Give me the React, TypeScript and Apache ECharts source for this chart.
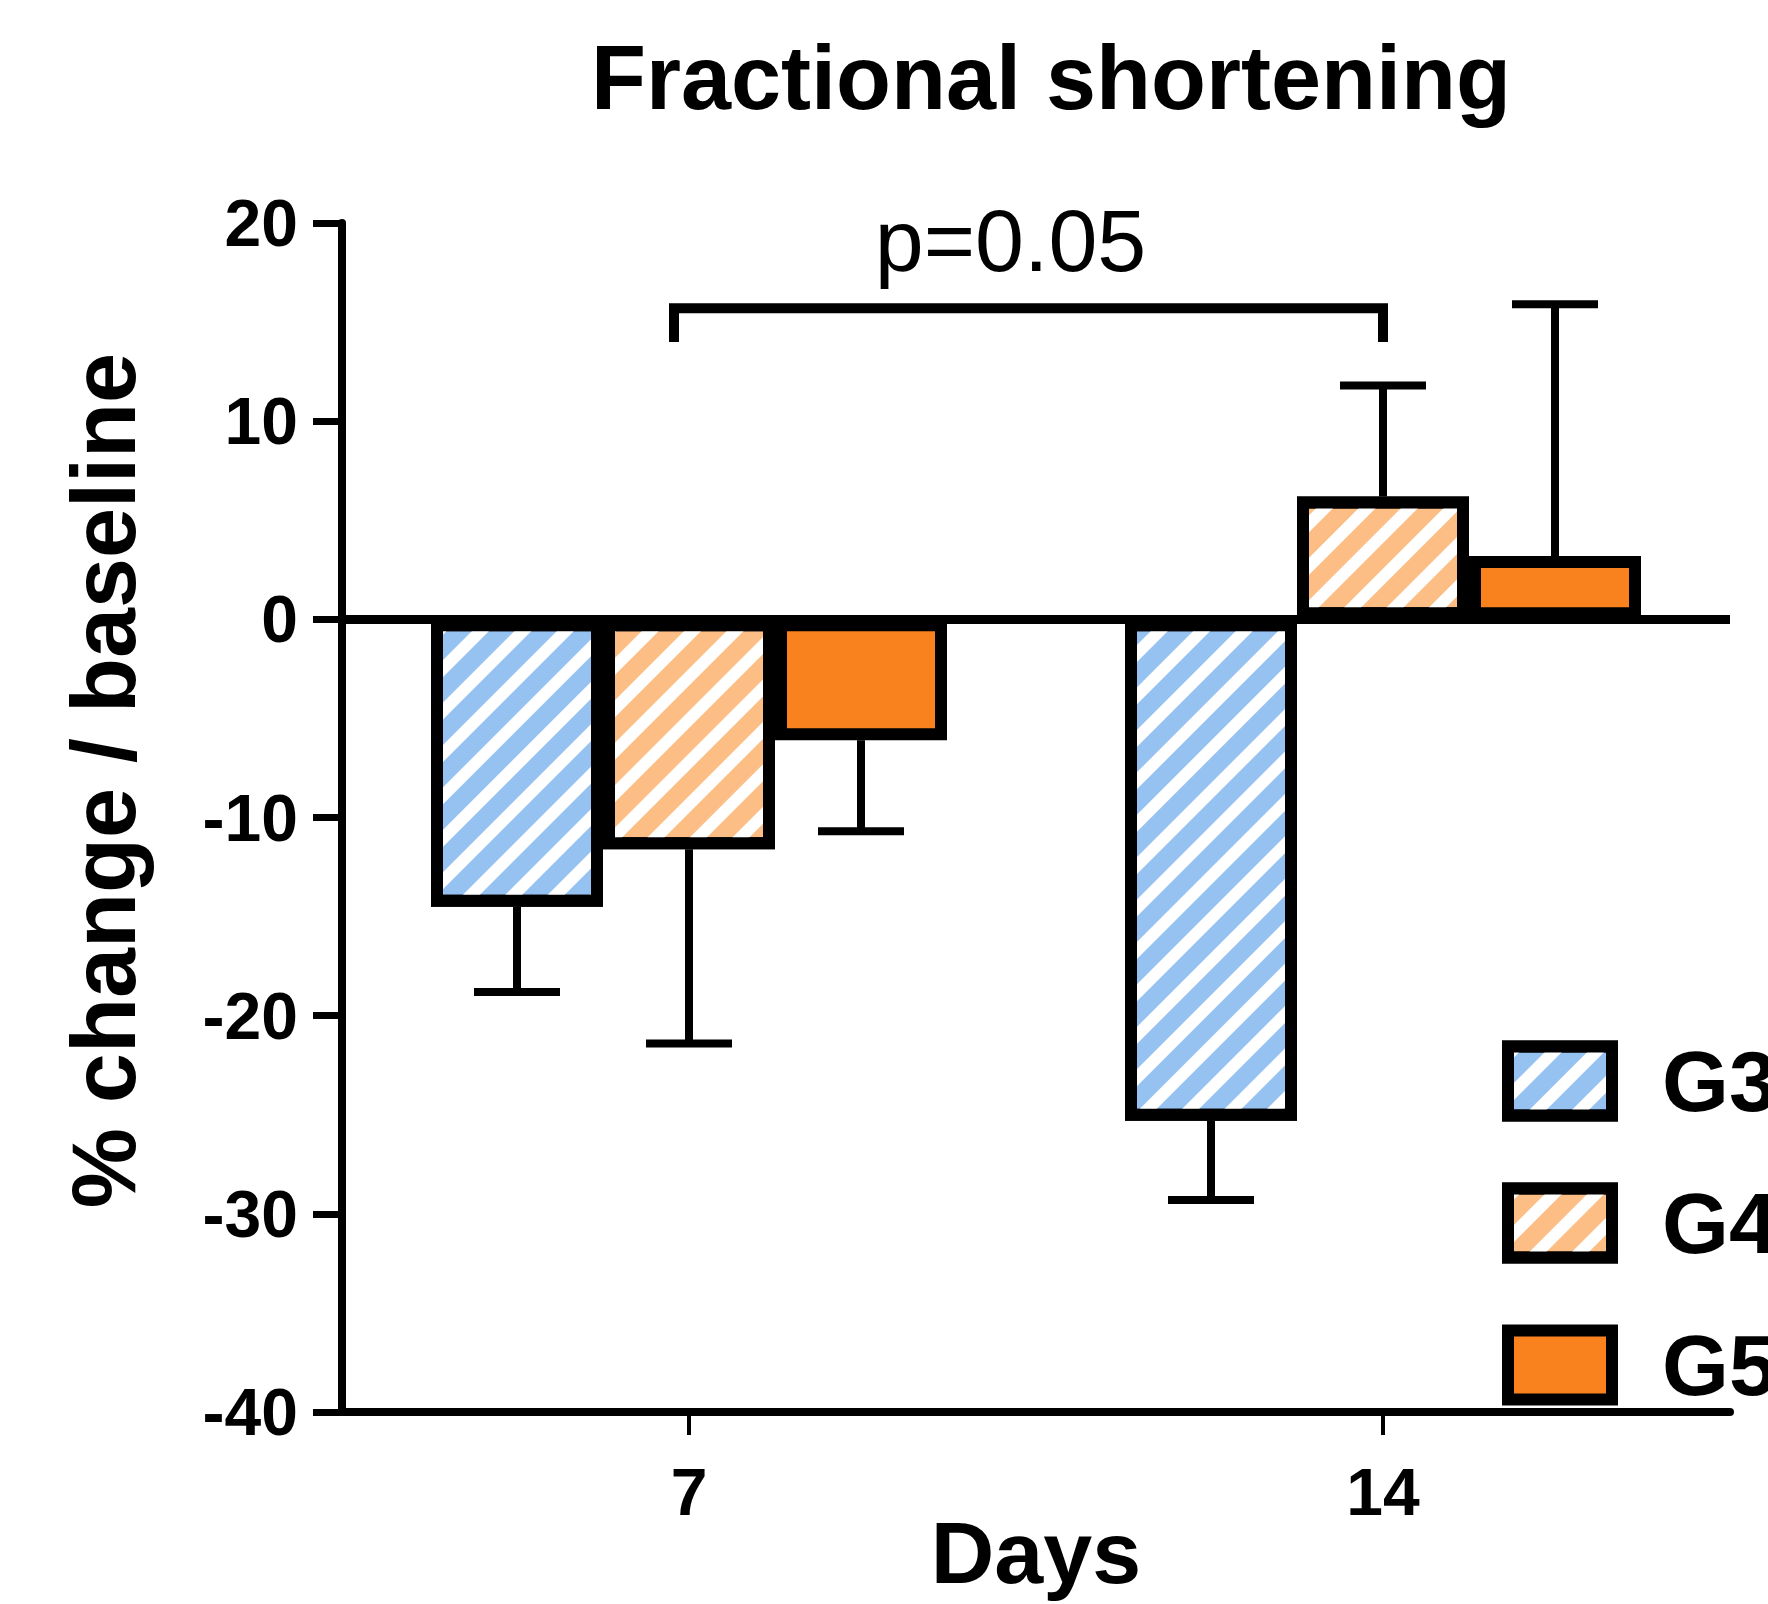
import React, { useEffect, useRef } from 'react';
import * as echarts from 'echarts';

// ---- data ----
const categories = ['7', '14'];
const groupNames = ['G3', 'G4', 'G5'];
const g3Mean = [-14.5, -25.3];
const g4Mean = [-11.6, 6.2];
const g5Mean = [-6.1, 3.2];
const g3Err = [4.3, 4.0];
const g4Err = [9.8, 5.6];
const g5Err = [4.6, 12.7];
const yMin = -40;
const yMax = 20;
const yInterval = 10;
// significance bracket: [fromCategory, toCategory, barY, legY, labelY]
const bracketData = [[0, 1, 15.7, 14.0, 19.1]];
const bracketLabel = 'p=0.05';

// ---- styles ----
const FONT = '"Liberation Sans", Arial, Helvetica, sans-serif';
const BAR_W = 172;
const BORDER = 12;
const PITCH = BAR_W;
const CAP = 86;
const colors = ['#96C2F2', '#FCBE84', '#F9821F'];
const hatch = {
  symbol: 'rect',
  symbolSize: 1,
  color: '#ffffff',
  dashArrayX: [1, 0],
  dashArrayY: [12, 18],
  rotation: -Math.PI / 4,
};

function errorSeries(name: string, means: number[], errs: number[], idx: number) {
  return {
    type: 'custom',
    name: name + ' SEM',
    z: 1,
    silent: true,
    encode: { x: 0, y: 1 },
    data: means.map((m, i) => [i, m, errs[i]]),
    renderItem: (params: any, api: any) => {
      const ci = api.value(0);
      const m = api.value(1);
      const e = api.value(2);
      const end = m >= 0 ? m + e : m - e;
      const base = api.coord([ci, m]);
      const x = base[0] + (idx - 1) * PITCH;
      const yEnd = api.coord([ci, end])[1];
      return {
        type: 'group',
        children: [
          { type: 'line', shape: { x1: x, y1: base[1], x2: x, y2: yEnd }, style: { stroke: '#000', lineWidth: 8 } },
          { type: 'line', shape: { x1: x - CAP / 2, y1: yEnd, x2: x + CAP / 2, y2: yEnd }, style: { stroke: '#000', lineWidth: 8 } },
        ],
      };
    },
  };
}

export default function App() {
  const ref = useRef<HTMLDivElement>(null);
  useEffect(() => {
    document.body.style.margin = '0';
    const chart = echarts.init(ref.current!, null, { renderer: 'svg' });
    const means = [g3Mean, g4Mean, g5Mean];
    const errs = [g3Err, g4Err, g5Err];
    const barSeries = groupNames.map((n, i) => ({
      type: 'bar',
      name: n,
      data: means[i],
      barWidth: BAR_W,
      barGap: '0%',
      z: 2,
      itemStyle: {
        color: colors[i],
        borderColor: '#000',
        borderWidth: BORDER,
        ...(i < 2 ? { decal: hatch } : {}),
      },
      emphasis: { disabled: true },
      ...(i === 2
        ? {
            markLine: {
              silent: true,
              symbol: ['none', 'none'],
              label: { show: false },
              lineStyle: { color: '#000', width: 9, type: 'solid' },
              data: [{ yAxis: 0 }],
            },
          }
        : {}),
    }));
    chart.setOption({
      animation: false,
      backgroundColor: '#ffffff',
      title: {
        text: 'Fractional shortening',
        left: 1051,
        top: 33,
        padding: 0,
        textAlign: 'center',
        textStyle: { fontSize: 90, fontWeight: 'bold', color: '#000', fontFamily: FONT },
      },
      legend: {
        data: groupNames,
        orient: 'vertical',
        left: 1502,
        top: 1038,
        padding: 0,
        icon: 'rect',
        itemWidth: 104,
        itemHeight: 69,
        itemGap: 56,
        selectedMode: false,
        itemStyle: { borderColor: '#000', borderWidth: BORDER },
        textStyle: {
          fontSize: 86,
          fontWeight: 'bold',
          color: '#000',
          fontFamily: FONT,
          lineHeight: 69,
          padding: [0, 0, 0, 45],
        },
      },
      grid: {
        left: 342,
        right: 38,
        top: 223,
        bottom: 192,
        containLabel: false,
        outerBoundsMode: 'none',
      },
      xAxis: {
        type: 'category',
        data: categories,
        name: 'Days',
        nameLocation: 'middle',
        nameGap: 96,
        nameMoveOverlap: false,
        nameTextStyle: { fontSize: 88, fontWeight: 'bold', color: '#000', fontFamily: FONT },
        axisLine: { onZero: false, lineStyle: { color: '#000', width: 8 } },
        axisTick: { show: true, alignWithLabel: true, length: 23, lineStyle: { color: '#000', width: 4 } },
        axisLabel: { margin: 47, fontSize: 66, fontWeight: 'bold', color: '#000', fontFamily: FONT },
        splitLine: { show: false },
      },
      yAxis: {
        type: 'value',
        min: yMin,
        max: yMax,
        interval: yInterval,
        name: '% change / baseline',
        nameLocation: 'middle',
        nameGap: 193,
        nameTextStyle: { fontSize: 90, fontWeight: 'bold', color: '#000', fontFamily: FONT, padding: [0, 0, 0, 74] },
        axisLine: { show: true, onZero: false, lineStyle: { color: '#000', width: 8 } },
        axisTick: { show: true, length: 29, lineStyle: { color: '#000', width: 7 } },
        axisLabel: { margin: 44, fontSize: 66, fontWeight: 'bold', color: '#000', fontFamily: FONT },
        splitLine: { show: false },
      },
      series: [
        ...barSeries,
        errorSeries('G3', g3Mean, g3Err, 0),
        errorSeries('G4', g4Mean, g4Err, 1),
        errorSeries('G5', g5Mean, g5Err, 2),
        {
          type: 'custom',
          name: 'bracket',
          silent: true,
          z: 3,
          encode: { x: 0, y: 2 },
          data: bracketData,
          renderItem: (params: any, api: any) => {
            const p0 = api.coord([api.value(0), api.value(2)]);
            const p1 = api.coord([api.value(1), api.value(2)]);
            const x0 = p0[0] - 15;
            const x1 = p1[0];
            const y = p0[1];
            const yLeg = api.coord([api.value(0), api.value(3)])[1];
            const yText = api.coord([api.value(0), api.value(4)])[1];
            return {
              type: 'group',
              children: [
                {
                  type: 'polyline',
                  shape: { points: [[x0, yLeg], [x0, y], [x1, y], [x1, yLeg]] },
                  style: { stroke: '#000', lineWidth: 10, fill: null, lineJoin: 'miter', lineCap: 'butt' },
                },
                {
                  type: 'text',
                  x: (x0 + x1) / 2 - 18,
                  y: yText,
                  style: {
                    text: bracketLabel,
                    fontSize: 88,
                    fontFamily: FONT,
                    fill: '#000',
                    align: 'center',
                    verticalAlign: 'middle',
                  },
                },
              ],
            };
          },
        },
      ],
    });
    return () => chart.dispose();
  }, []);
  return (
    <div
      ref={ref}
      style={{ position: 'absolute', left: 0, top: 0, width: 1768, height: 1604, background: '#fff' }}
    />
  );
}
